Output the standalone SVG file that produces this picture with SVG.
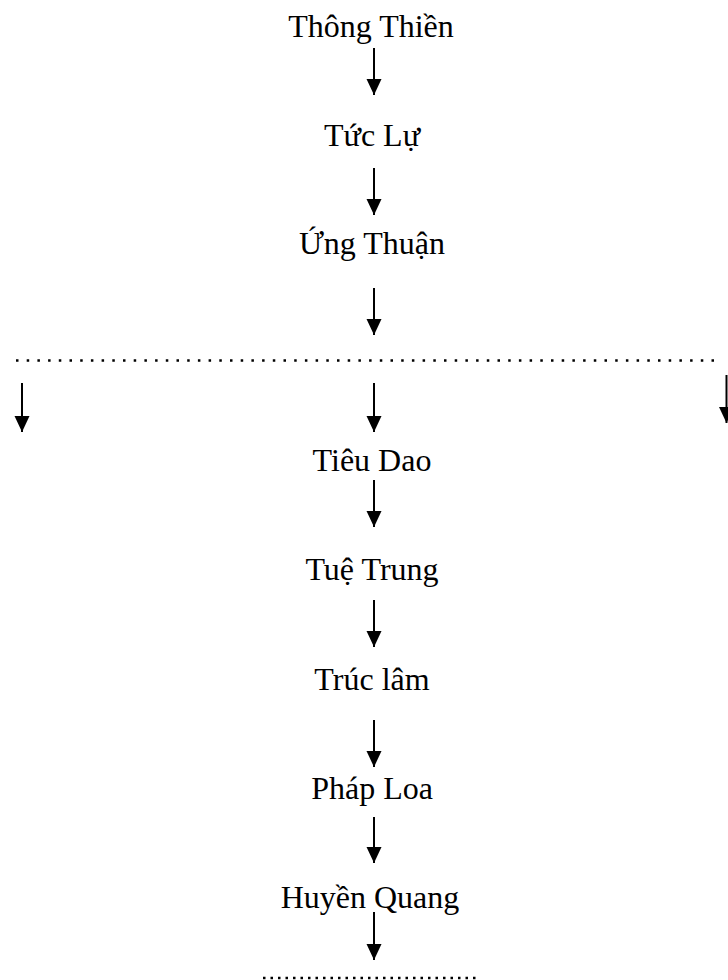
<svg xmlns="http://www.w3.org/2000/svg" width="728" height="980" viewBox="0 0 728 980">
<style>
.t{font-family:"Liberation Serif","Times New Roman",serif;font-size:32px;fill:#000;text-anchor:middle}
.a{stroke:#000;stroke-width:2;fill:none;marker-end:url(#ah)}
.d{stroke:#000;stroke-width:2.5;fill:none}
</style>
<defs>
<marker id="ah" markerUnits="userSpaceOnUse" markerWidth="16" markerHeight="18" refX="16" refY="8" orient="auto" viewBox="0 0 16 16">
<path d="M0,0.5 L16,8 L0,15.5 Z" fill="#000"/>
</marker>
</defs>
<rect width="728" height="980" fill="#fff"/>
<g id="n1"><text class="t" x="371" y="37">Thông Thiền</text></g>
<g id="n2"><text class="t" x="372" y="146">Tức Lự</text></g>
<g id="n3"><text class="t" x="372" y="254">Ứng Thuận</text></g>
<g id="n4"><text class="t" x="372" y="471">Tiêu Dao</text></g>
<g id="n5"><text class="t" x="372" y="580">Tuệ Trung</text></g>
<g id="n6"><text class="t" x="372" y="690">Trúc lâm</text></g>
<g id="n7"><text class="t" x="372" y="799">Pháp Loa</text></g>
<g id="n8"><text class="t" x="370" y="908">Huyền Quang</text></g>
<g id="connectors">
<line class="a" x1="374" y1="48" x2="374" y2="95"/>
<line class="a" x1="374" y1="168" x2="374" y2="215"/>
<line class="a" x1="374" y1="288" x2="374" y2="335"/>
<line class="d" x1="16" y1="360.5" x2="722" y2="360.5" stroke-dasharray="2.5 8.2"/>
<line class="a" x1="22" y1="383" x2="22" y2="432"/>
<line class="a" x1="374" y1="383" x2="374" y2="432"/>
<line class="a" x1="726.5" y1="375" x2="726.5" y2="423"/>
<line class="a" x1="374" y1="480" x2="374" y2="527"/>
<line class="a" x1="374" y1="600" x2="374" y2="647"/>
<line class="a" x1="374" y1="720" x2="374" y2="767"/>
<line class="a" x1="374" y1="817" x2="374" y2="863"/>
<line class="a" x1="374" y1="912" x2="374" y2="960"/>
<line class="d" x1="263" y1="978" x2="479" y2="978" stroke-dasharray="2.5 5"/>
</g>
</svg>
